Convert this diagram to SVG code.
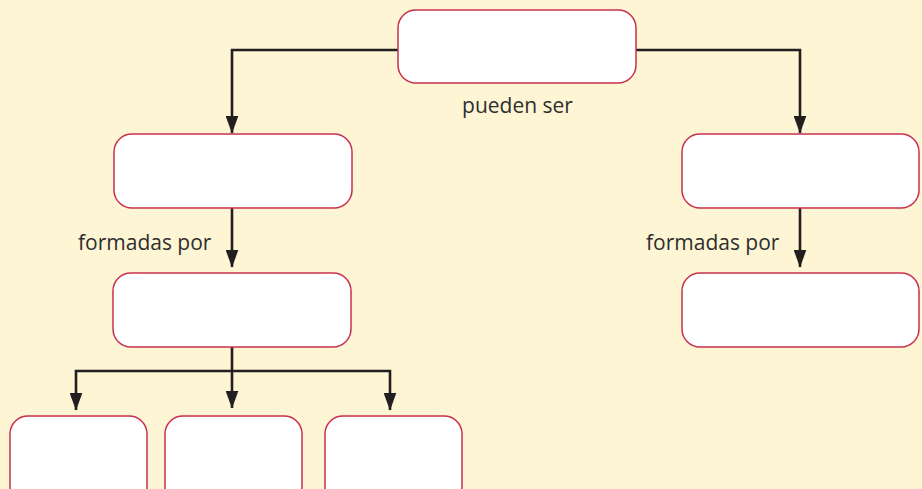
<svg xmlns="http://www.w3.org/2000/svg" width="922" height="489" viewBox="0 0 922 489">
<defs>
<style>
.box{fill:#ffffff;stroke:#c8304f;stroke-width:1.5}
.con{fill:none;stroke:#231f20;stroke-width:2.6}
.lbl{font-family:"Open Sans","Noto Sans",sans-serif;font-size:21px;fill:#2e2e2e}
</style>
<marker id="ad" viewBox="0 0 18 13" refX="17.5" refY="6.5" markerWidth="18" markerHeight="13" markerUnits="userSpaceOnUse" orient="auto">
<path d="M0,0 L18,6.5 L0,13 Z" fill="#231f20"/>
</marker>
</defs>
<rect width="922" height="489" fill="#fdf5d3"/>
<g id="connectors">
<path class="con" d="M398,50 H232 V133" marker-end="url(#ad)"/>
<path class="con" d="M636,50 H800 V133" marker-end="url(#ad)"/>
<path class="con" d="M232,208 V267" marker-end="url(#ad)"/>
<path class="con" d="M800,208 V267" marker-end="url(#ad)"/>
<path class="con" d="M232,347 V408" marker-end="url(#ad)"/>
<path class="con" d="M232,371 H76 V410" marker-end="url(#ad)"/>
<path class="con" d="M232,371 H390 V410" marker-end="url(#ad)"/>
</g>
<g id="n-top"><rect class="box" x="398" y="10" width="238" height="73" rx="18"/></g>
<g id="n-left1"><rect class="box" x="114" y="134" width="238" height="74" rx="18"/></g>
<g id="n-left2"><rect class="box" x="113" y="273" width="238" height="74" rx="18"/></g>
<g id="n-right1"><rect class="box" x="682" y="134" width="237" height="74" rx="18"/></g>
<g id="n-right2"><rect class="box" x="682" y="273" width="237" height="74" rx="18"/></g>
<g id="n-b1"><rect class="box" x="10" y="416" width="137" height="90" rx="18"/></g>
<g id="n-b2"><rect class="box" x="165" y="416" width="137" height="90" rx="18"/></g>
<g id="n-b3"><rect class="box" x="325" y="416" width="137" height="90" rx="18"/></g>
<g id="labels">
<text class="lbl" x="517.5" y="113" text-anchor="middle">pueden ser</text>
<text class="lbl" x="78" y="250">formadas por</text>
<text class="lbl" x="646" y="250">formadas por</text>
</g>
</svg>
